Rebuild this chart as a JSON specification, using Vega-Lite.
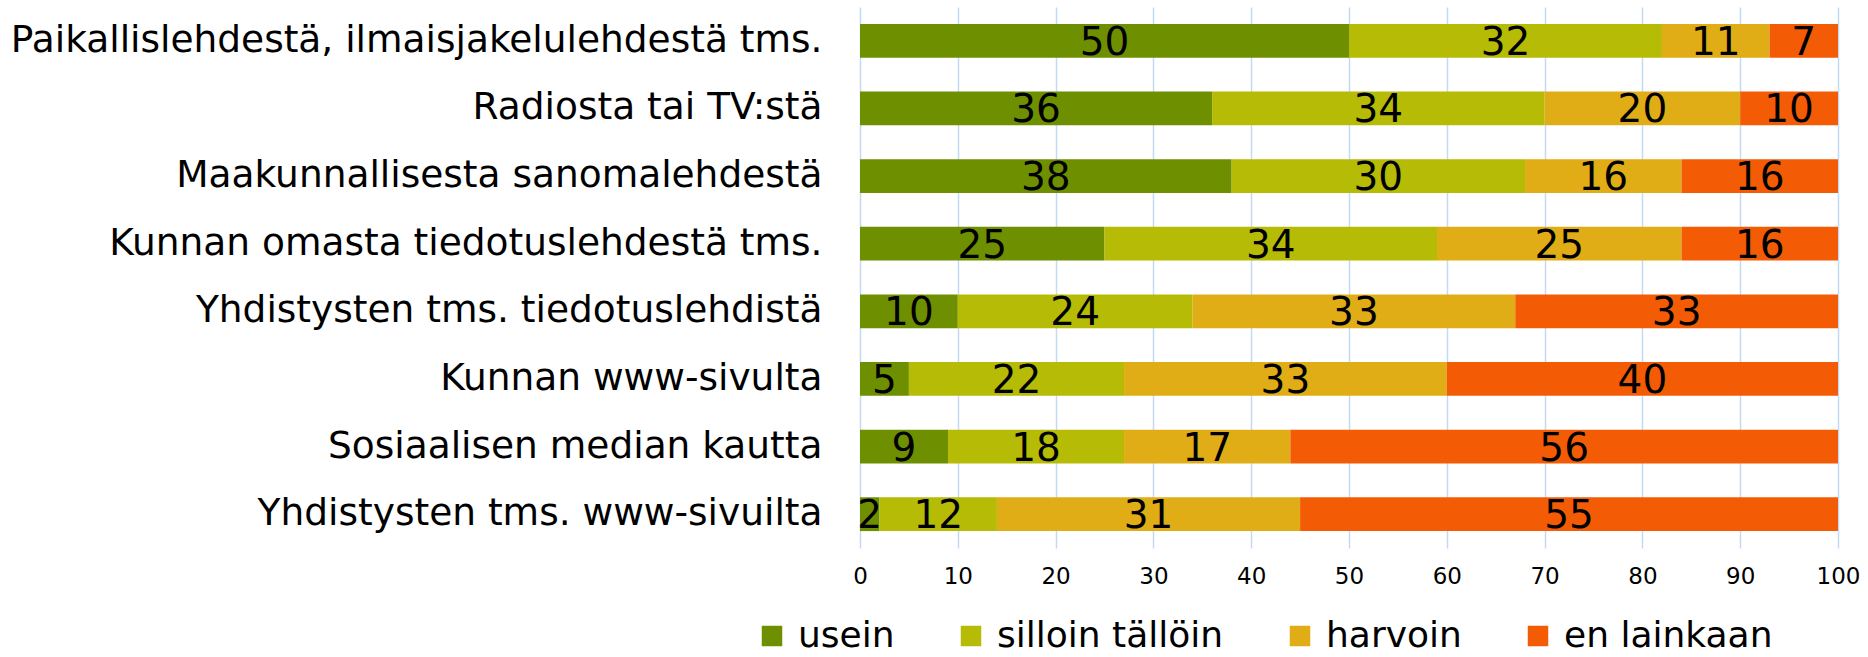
{
  "$schema": "https://vega.github.io/schema/vega-lite/v6.json",
  "autosize": "none",
  "padding": {"left": 860, "top": 7, "right": 30, "bottom": 109},
  "width": 978,
  "height": 541,
  "background": "white",
  "config": {"view": {"stroke": null}, "font": "DejaVu Sans"},
  "data": {"values": [
    {"source": "Paikallislehdestä, ilmaisjakelulehdestä tms.", "cat": "usein", "value": 50},
    {"source": "Paikallislehdestä, ilmaisjakelulehdestä tms.", "cat": "silloin tällöin", "value": 32},
    {"source": "Paikallislehdestä, ilmaisjakelulehdestä tms.", "cat": "harvoin", "value": 11},
    {"source": "Paikallislehdestä, ilmaisjakelulehdestä tms.", "cat": "en lainkaan", "value": 7},
    {"source": "Radiosta tai TV:stä", "cat": "usein", "value": 36},
    {"source": "Radiosta tai TV:stä", "cat": "silloin tällöin", "value": 34},
    {"source": "Radiosta tai TV:stä", "cat": "harvoin", "value": 20},
    {"source": "Radiosta tai TV:stä", "cat": "en lainkaan", "value": 10},
    {"source": "Maakunnallisesta sanomalehdestä", "cat": "usein", "value": 38},
    {"source": "Maakunnallisesta sanomalehdestä", "cat": "silloin tällöin", "value": 30},
    {"source": "Maakunnallisesta sanomalehdestä", "cat": "harvoin", "value": 16},
    {"source": "Maakunnallisesta sanomalehdestä", "cat": "en lainkaan", "value": 16},
    {"source": "Kunnan omasta tiedotuslehdestä tms.", "cat": "usein", "value": 25},
    {"source": "Kunnan omasta tiedotuslehdestä tms.", "cat": "silloin tällöin", "value": 34},
    {"source": "Kunnan omasta tiedotuslehdestä tms.", "cat": "harvoin", "value": 25},
    {"source": "Kunnan omasta tiedotuslehdestä tms.", "cat": "en lainkaan", "value": 16},
    {"source": "Yhdistysten tms. tiedotuslehdistä", "cat": "usein", "value": 10},
    {"source": "Yhdistysten tms. tiedotuslehdistä", "cat": "silloin tällöin", "value": 24},
    {"source": "Yhdistysten tms. tiedotuslehdistä", "cat": "harvoin", "value": 33},
    {"source": "Yhdistysten tms. tiedotuslehdistä", "cat": "en lainkaan", "value": 33},
    {"source": "Kunnan www-sivulta", "cat": "usein", "value": 5},
    {"source": "Kunnan www-sivulta", "cat": "silloin tällöin", "value": 22},
    {"source": "Kunnan www-sivulta", "cat": "harvoin", "value": 33},
    {"source": "Kunnan www-sivulta", "cat": "en lainkaan", "value": 40},
    {"source": "Sosiaalisen median kautta", "cat": "usein", "value": 9},
    {"source": "Sosiaalisen median kautta", "cat": "silloin tällöin", "value": 18},
    {"source": "Sosiaalisen median kautta", "cat": "harvoin", "value": 17},
    {"source": "Sosiaalisen median kautta", "cat": "en lainkaan", "value": 56},
    {"source": "Yhdistysten tms. www-sivuilta", "cat": "usein", "value": 2},
    {"source": "Yhdistysten tms. www-sivuilta", "cat": "silloin tällöin", "value": 12},
    {"source": "Yhdistysten tms. www-sivuilta", "cat": "harvoin", "value": 31},
    {"source": "Yhdistysten tms. www-sivuilta", "cat": "en lainkaan", "value": 55}
  ]},
  "encoding": {
    "y": {
      "field": "source", "type": "nominal", "sort": null, "title": null,
      "scale": {"paddingInner": 0.5, "paddingOuter": 0.25},
      "axis": {"domain": false, "ticks": false, "grid": false, "labelFontSize": 37.5, "labelColor": "black", "labelPadding": 38, "labelLimit": 0}
    }
  },
  "layer": [
    {
      "mark": {"type": "bar"},
      "encoding": {
        "x": {
          "field": "value", "type": "quantitative", "stack": "zero", "title": null,
          "scale": {"domain": [0, 100], "nice": false},
          "axis": {"values": [0,10,20,30,40,50,60,70,80,90,100], "domain": false, "ticks": false, "grid": true, "gridColor": "#C2DAF3", "gridWidth": 1.5, "labelFontSize": 23, "labelColor": "black", "labelPadding": 17, "labelFlush": false}
        },
        "color": {
          "field": "cat", "type": "nominal", "title": null,
          "sort": ["usein", "silloin tällöin", "harvoin", "en lainkaan"],
          "scale": {"domain": ["usein", "silloin tällöin", "harvoin", "en lainkaan"], "range": ["#6E8F00", "#B6BB06", "#E1AD16", "#F35C04"]},
          "legend": {"orient": "none", "direction": "horizontal", "legendX": -106, "legendY": 611, "symbolType": "square", "symbolSize": 420, "symbolStrokeWidth": 0, "labelFontSize": 36, "labelColor": "black", "labelOffset": 8, "columnPadding": 58, "labelLimit": 0}
        },
        "order": {"field": "cat", "sort": "descending"}
      }
    },
    {
      "mark": {"type": "text", "fontSize": 39, "color": "black", "baseline": "middle", "align": "center", "dy": 2},
      "encoding": {
        "x": {"field": "value", "type": "quantitative", "stack": "zero", "bandPosition": 0.5},
        "detail": {"field": "cat"},
        "order": {"field": "cat", "sort": "descending"},
        "text": {"field": "value", "type": "quantitative"}
      }
    }
  ]
}
